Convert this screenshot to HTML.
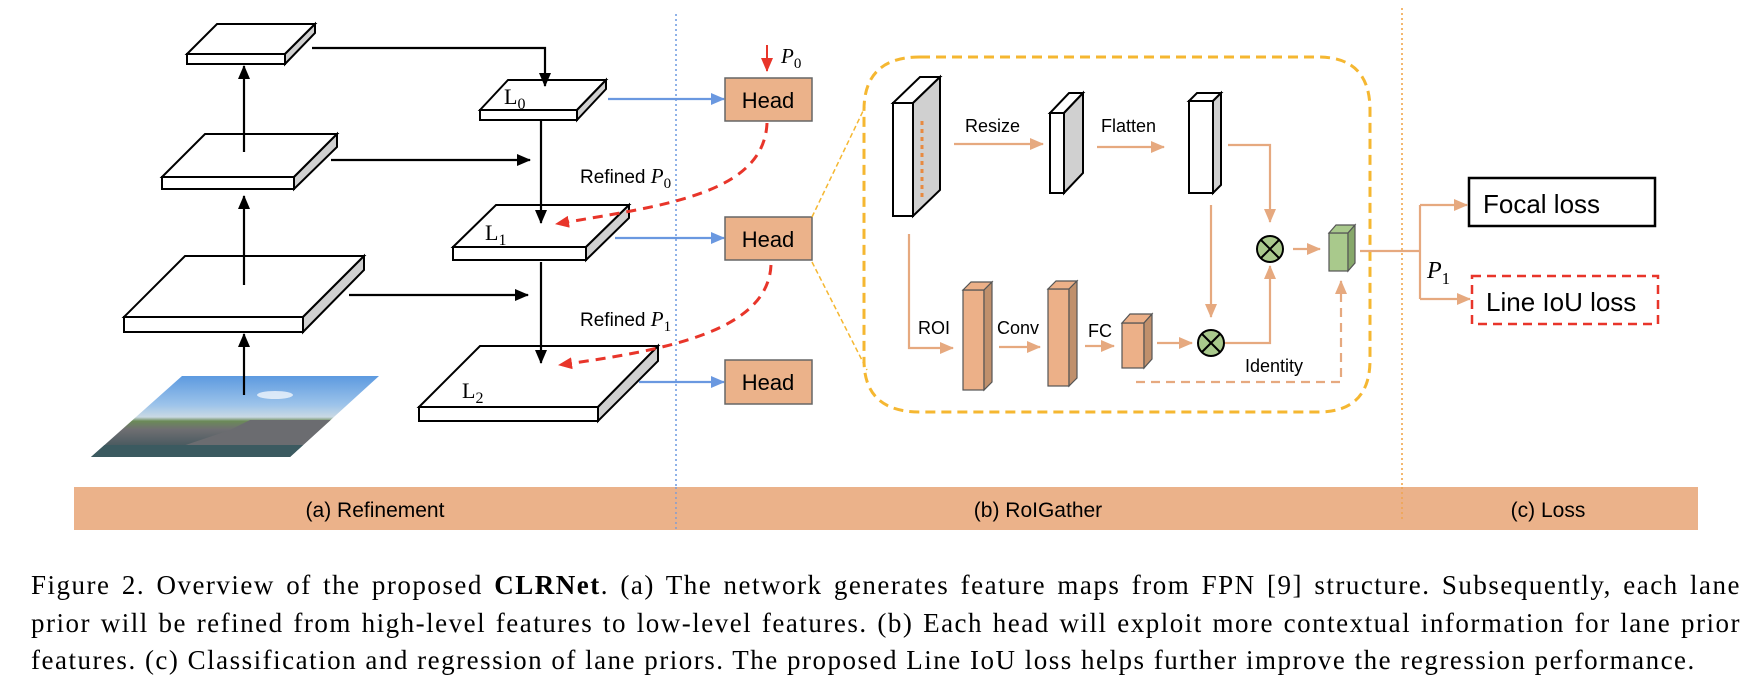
<!DOCTYPE html>
<html><head><meta charset="utf-8"><style>
html,body{margin:0;padding:0;background:#fff;}
svg{display:block;}
.sans{font-family:"Liberation Sans",sans-serif;}
.serif{font-family:"Liberation Serif",serif;}
.cap{position:absolute;left:31px;width:1710px;font-family:"Liberation Serif",serif;font-size:27px;letter-spacing:1.5px;line-height:32px;color:#000;white-space:nowrap;}
.j{text-align:justify;text-align-last:justify;white-space:normal;}
</style></head><body>
<div style="position:relative;width:1756px;height:688px;overflow:hidden;">
<svg width="1756" height="688" viewBox="0 0 1756 688" xmlns="http://www.w3.org/2000/svg">
<defs>
<marker id="abk" markerWidth="14" markerHeight="12" refX="13" refY="6" orient="auto" markerUnits="userSpaceOnUse"><path d="M0,0 L14,6 L0,12 z" fill="#000"/></marker>
<marker id="abl" markerWidth="14" markerHeight="12" refX="13" refY="6" orient="auto" markerUnits="userSpaceOnUse"><path d="M0,0 L14,6 L0,12 z" fill="#6a98e0"/></marker>
<marker id="ar" markerWidth="14" markerHeight="12" refX="13" refY="6" orient="auto" markerUnits="userSpaceOnUse"><path d="M0,0 L14,6 L0,12 z" fill="#e8352a"/></marker>
<marker id="ao" markerWidth="14" markerHeight="12" refX="13" refY="6" orient="auto" markerUnits="userSpaceOnUse"><path d="M0,0 L14,6 L0,12 z" fill="#e6a97f"/></marker>
<linearGradient id="sky" x1="0" y1="0" x2="0" y2="1">
<stop offset="0" stop-color="#5d9ae0"/><stop offset="0.35" stop-color="#9cc3ea"/><stop offset="0.5" stop-color="#c9d9e4"/><stop offset="0.55" stop-color="#6b8a58"/><stop offset="0.65" stop-color="#6f6f72"/><stop offset="0.85" stop-color="#4a5a60"/><stop offset="1" stop-color="#1f2a30"/>
</linearGradient>
</defs>

<line x1="676" y1="14" x2="676" y2="530" stroke="#6a98e0" stroke-width="1.5" stroke-dasharray="2,3"/>
<line x1="1402" y1="8" x2="1402" y2="525" stroke="#f0a040" stroke-width="1.5" stroke-dasharray="2,3"/>

<g stroke="#000" stroke-width="2" stroke-linejoin="miter">
<polygon points="187,54 217,24 315,24 285,54" fill="#fff"/>
<rect x="187" y="54" width="98" height="10" fill="#fff"/>
<polygon points="285,54 315,24 315,33 285,64" fill="#d0d0d0"/>

<polygon points="162,177 205,134 337,134 294,177" fill="#fff"/>
<rect x="162" y="177" width="132" height="12" fill="#fff"/>
<polygon points="294,177 337,134 337,147 294,189" fill="#d0d0d0"/>

<polygon points="124,317 185,256 364,256 303,317" fill="#fff"/>
<rect x="124" y="317" width="179" height="15" fill="#fff"/>
<polygon points="303,317 364,256 364,270 303,332" fill="#d0d0d0"/>

<polygon points="480,110 508,80 606,80 577,110" fill="#fff"/>
<rect x="480" y="110" width="97" height="10" fill="#fff"/>
<polygon points="577,110 606,80 606,89 577,120" fill="#d0d0d0"/>

<polygon points="453,247 496,205 629,205 586,247" fill="#fff"/>
<rect x="453" y="247" width="133" height="13" fill="#fff"/>
<polygon points="586,247 629,205 629,218 586,260" fill="#d0d0d0"/>

<polygon points="419,407 480,346 658,346 598,407" fill="#fff"/>
<rect x="419" y="407" width="179" height="14" fill="#fff"/>
<polygon points="598,407 658,346 658,361 598,421" fill="#d0d0d0"/>
</g>

<clipPath id="cp"><polygon points="182,376 379,376 290,457 91,457"/></clipPath>
<g clip-path="url(#cp)">
<rect x="90" y="376" width="290" height="82" fill="url(#sky)"/>
<polygon points="230,430 250,420 330,420 380,440 380,457 150,457" fill="#6b6c70"/>
<rect x="90" y="445" width="290" height="12" fill="#3b5a60"/>
<ellipse cx="275" cy="395" rx="18" ry="4" fill="#fff" opacity="0.7"/>
</g>

<text x="504" y="104" class="serif" font-size="22">L<tspan font-size="16" dy="5">0</tspan></text>
<text x="485" y="240" class="serif" font-size="22">L<tspan font-size="16" dy="5">1</tspan></text>
<text x="462" y="398" class="serif" font-size="22">L<tspan font-size="16" dy="5">2</tspan></text>

<g stroke="#000" stroke-width="2.2" fill="none">
<path d="M312,48 H545 V86" marker-end="url(#abk)"/>
<line x1="244" y1="152" x2="244" y2="66" marker-end="url(#abk)"/>
<line x1="331" y1="160" x2="530" y2="160" marker-end="url(#abk)"/>
<line x1="541" y1="121" x2="541" y2="223" marker-end="url(#abk)"/>
<line x1="244" y1="285" x2="244" y2="196" marker-end="url(#abk)"/>
<line x1="349" y1="295" x2="528" y2="295" marker-end="url(#abk)"/>
<line x1="541" y1="262" x2="541" y2="363" marker-end="url(#abk)"/>
<line x1="244" y1="395" x2="244" y2="334" marker-end="url(#abk)"/>
</g>

<g stroke="#6a98e0" stroke-width="2.2" fill="none">
<line x1="608" y1="99" x2="724" y2="99" marker-end="url(#abl)"/>
<line x1="615" y1="238" x2="724" y2="238" marker-end="url(#abl)"/>
<line x1="639" y1="382" x2="724" y2="382" marker-end="url(#abl)"/>
</g>

<g stroke="#666" stroke-width="1.5" fill="#ebb28a">
<rect x="725" y="78" width="87" height="43"/>
<rect x="725" y="217" width="87" height="43"/>
<rect x="725" y="360" width="87" height="44"/>
</g>
<g class="sans" font-size="22" text-anchor="middle">
<text x="768" y="108">Head</text>
<text x="768" y="247">Head</text>
<text x="768" y="390">Head</text>
</g>
<line x1="767" y1="45" x2="767" y2="71" stroke="#e8352a" stroke-width="2" marker-end="url(#ar)"/>
<text x="781" y="63" class="serif" font-size="21" font-style="italic">P<tspan font-size="15" dy="5" font-style="normal">0</tspan></text>

<g stroke="#e8352a" stroke-width="3" fill="none" stroke-dasharray="10,7">
<path d="M767,123 C764,195 660,206 556,224" marker-end="url(#ar)"/>
<path d="M771,265 C768,330 670,350 559,365" marker-end="url(#ar)"/>
</g>
<text x="580" y="183" class="sans" font-size="19">Refined <tspan class="serif" font-style="italic" font-size="21">P</tspan><tspan class="serif" font-size="15" dy="5">0</tspan></text>
<text x="580" y="326" class="sans" font-size="19">Refined <tspan class="serif" font-style="italic" font-size="21">P</tspan><tspan class="serif" font-size="15" dy="5">1</tspan></text>

<g stroke="#f5b731" stroke-width="1.5" stroke-dasharray="5,3">
<line x1="812" y1="217" x2="865" y2="107"/>
<line x1="812" y1="262" x2="867" y2="370"/>
</g>
<path d="M920,57 H1318 Q1370,57 1370,110 V360 Q1370,412 1318,412 H920 Q864,412 864,360 V110 Q864,57 920,57 Z" fill="none" stroke="#f5b731" stroke-width="3" stroke-dasharray="10,6"/>

<g stroke="#000" stroke-width="2">
<rect x="893" y="103" width="20" height="113" fill="#fff"/>
<polygon points="893,103 913,103 940,77 920,77" fill="#fff"/>
<polygon points="913,103 940,77 940,190 913,216" fill="#d0d0d0"/>
<rect x="1050" y="113" width="14" height="80" fill="#fff"/>
<polygon points="1050,113 1064,113 1083,93 1069,93" fill="#fff"/>
<polygon points="1064,113 1083,93 1083,173 1064,193" fill="#d0d0d0"/>
<rect x="1189" y="101" width="24" height="92" fill="#fff"/>
<polygon points="1189,101 1213,101 1221,93 1197,93" fill="#fff"/>
<polygon points="1213,101 1221,93 1221,185 1213,193" fill="#d0d0d0"/>
</g>
<line x1="922" y1="121" x2="922" y2="200" stroke="#e88a40" stroke-width="3" stroke-dasharray="4,4"/>

<g stroke="#555" stroke-width="1.2">
<rect x="963" y="290" width="21" height="100" fill="#ecb088"/>
<polygon points="963,290 984,290 992,282 971,282" fill="#ecb088"/>
<polygon points="984,290 992,282 992,382 984,390" fill="#c0906c"/>
<rect x="1048" y="289" width="21" height="97" fill="#ecb088"/>
<polygon points="1048,289 1069,289 1077,281 1056,281" fill="#ecb088"/>
<polygon points="1069,289 1077,281 1077,378 1069,386" fill="#c0906c"/>
<rect x="1122" y="323" width="22" height="45" fill="#ecb088"/>
<polygon points="1122,323 1144,323 1152,314 1130,314" fill="#ecb088"/>
<polygon points="1144,323 1152,314 1152,359 1144,368" fill="#c0906c"/>
<rect x="1329" y="233" width="19" height="38" fill="#a9c98c"/>
<polygon points="1329,233 1348,233 1355,225 1336,225" fill="#a9c98c"/>
<polygon points="1348,233 1355,225 1355,263 1348,271" fill="#86a86a"/>
</g>

<g stroke="#000" stroke-width="2" fill="#a9c98c">
<circle cx="1270" cy="249" r="13"/>
<circle cx="1211" cy="343" r="13"/>
</g>
<g stroke="#000" stroke-width="2">
<line x1="1261" y1="240" x2="1279" y2="258"/><line x1="1279" y1="240" x2="1261" y2="258"/>
<line x1="1202" y1="334" x2="1220" y2="352"/><line x1="1220" y1="334" x2="1202" y2="352"/>
</g>

<g stroke="#e6a97f" stroke-width="2.2" fill="none">
<line x1="954" y1="144" x2="1043" y2="144" marker-end="url(#ao)"/>
<line x1="1097" y1="147" x2="1164" y2="147" marker-end="url(#ao)"/>
<path d="M1228,145 H1270 V222" marker-end="url(#ao)"/>
<line x1="1293" y1="249" x2="1320" y2="249" marker-end="url(#ao)"/>
<line x1="1211" y1="205" x2="1211" y2="317" marker-end="url(#ao)"/>
<path d="M1225,343 H1270 V266" marker-end="url(#ao)"/>
<path d="M909,234 V348 H953" marker-end="url(#ao)"/>
<line x1="999" y1="347" x2="1040" y2="347" marker-end="url(#ao)"/>
<line x1="1085" y1="346" x2="1114" y2="346" marker-end="url(#ao)"/>
<line x1="1157" y1="343" x2="1192" y2="343" marker-end="url(#ao)"/>
<path d="M1136,382 H1341 V281" stroke-dasharray="9,6" marker-end="url(#ao)"/>
<path d="M1360,251 H1420"/>
<path d="M1420,205 V299"/>
<line x1="1420" y1="205" x2="1467" y2="205" marker-end="url(#ao)"/>
<line x1="1420" y1="299" x2="1470" y2="299" marker-end="url(#ao)"/>
</g>

<g class="sans" font-size="18">
<text x="965" y="132">Resize</text>
<text x="1101" y="132">Flatten</text>
<text x="918" y="334">ROI</text>
<text x="997" y="334">Conv</text>
<text x="1088" y="337">FC</text>
<text x="1245" y="372">Identity</text>
</g>
<text x="1427" y="278" class="serif" font-size="24" font-style="italic">P<tspan font-size="17" dy="6" font-style="normal">1</tspan></text>

<rect x="1469" y="178" width="186" height="48" fill="#fff" stroke="#000" stroke-width="2.5"/>
<text x="1483" y="213" class="sans" font-size="26">Focal loss</text>
<rect x="1472" y="276" width="186" height="48" fill="#fff" stroke="#e8352a" stroke-width="2.5" stroke-dasharray="9,6"/>
<text x="1486" y="311" class="sans" font-size="26">Line IoU loss</text>

<rect x="74" y="487" width="1624" height="43" fill="#ebb28a"/>
<line x1="676" y1="487" x2="676" y2="530" stroke="#6a98e0" stroke-width="1.2" stroke-dasharray="2,3"/>
<line x1="1402" y1="487" x2="1402" y2="522" stroke="#f0a040" stroke-width="1.2" stroke-dasharray="2,3"/>
<g class="sans" font-size="21" text-anchor="middle">
<text x="375" y="517">(a) Refinement</text>
<text x="1038" y="517">(b) RoIGather</text>
<text x="1548" y="517">(c) Loss</text>
</g>
</svg>
<div class="cap j" style="top:569px;">Figure 2. Overview of the proposed <b>CLRNet</b>. (a) The network generates feature maps from FPN [9] structure. Subsequently, each lane</div>
<div class="cap j" style="top:607px;">prior will be refined from high-level features to low-level features. (b) Each head will exploit more contextual information for lane prior</div>
<div class="cap" style="top:644px;">features. (c) Classification and regression of lane priors. The proposed Line IoU loss helps further improve the regression performance.</div>
</div>
</body></html>
